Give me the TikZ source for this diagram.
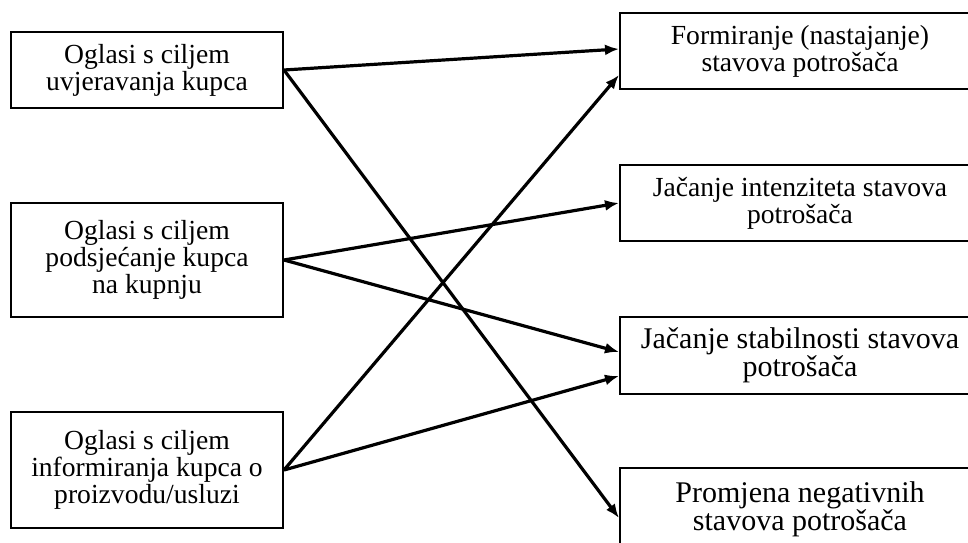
\documentclass[tikz,border=0pt]{standalone}
\usepackage{fontspec}
\setmainfont{Liberation Serif}
\usetikzlibrary{arrows.meta}
\begin{document}
\begin{tikzpicture}[x=1pt,y=1pt,
  box/.style={draw, line width=2pt, align=center, inner sep=0pt,
    font=\fontsize{27.6}{27}\selectfont},
  bigtext/.style={font=\fontsize{30}{27}\selectfont},
  lbox/.style={box, minimum width=272pt},
  rbox/.style={box, minimum width=360pt},
  conn/.style={line width=3.2pt, -{Latex[length=14pt,width=11pt]}}]
\useasboundingbox (0,0) rectangle (968,542);
\fill[white] (0,0) rectangle (968,542);
% left boxes
\node[lbox, minimum height=76pt] (A) at (147,472) {Oglasi s ciljem\\uvjeravanja kupca};
\node[lbox, minimum height=114pt] (B) at (147,282) {Oglasi s ciljem\\podsjećanje kupca\\na kupnju};
\node[lbox, minimum height=116pt] (C) at (147,72) {Oglasi s ciljem\\informiranja kupca o\\proizvodu/usluzi};
% right boxes
\node[rbox, minimum height=76pt] (R1) at (800,491) {Formiranje (nastajanje)\\stavova potrošača};
\node[rbox, minimum height=76pt] (R2) at (800,339) {Jačanje intenziteta stavova\\potrošača};
\node[rbox, bigtext, minimum height=77pt] (R3) at (800,186.5) {Jačanje stabilnosti stavova\\potrošača};
\node[rbox, bigtext, minimum height=82pt] (R4) at (800,33) {Promjena negativnih\\stavova potrošača};
% connectors
\draw[conn] (A.east) -- ([yshift=2pt]R1.west);
\draw[conn] (A.east) -- ([yshift=-9pt]R4.west);
\draw[conn] (B.east) -- (R2.west);
\draw[conn] (B.east) -- ([yshift=3.5pt]R3.west);
\draw[conn] (C.east) -- ([yshift=-24pt]R1.west);
\draw[conn] (C.east) -- ([yshift=-20.5pt]R3.west);
\end{tikzpicture}
\end{document}
